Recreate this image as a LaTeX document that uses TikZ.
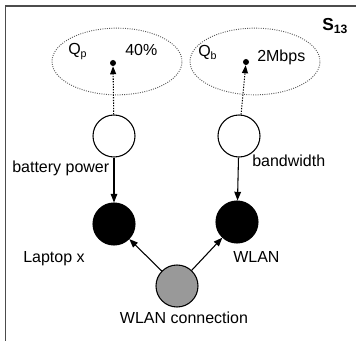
\documentclass[tikz,border=0pt]{standalone}
\usepackage{fontspec}
\setmainfont{Liberation Sans}
\usepackage{tikz}
\usetikzlibrary{shapes.geometric,arrows.meta,positioning}

\begin{document}
\begin{tikzpicture}[
  x=0.75pt, y=-0.75pt,
  state/.style={draw, circle, line width=0.8pt, minimum size=31.5pt, inner sep=0pt},
  goal/.style={draw=black!65, ellipse, line width=0.7pt, dash pattern=on 0.7pt off 1pt, minimum width=97.5pt, minimum height=50pt, inner sep=0pt},
  dot/.style={circle, fill, minimum size=4.5pt, inner sep=0pt},
  edge/.style={-{Triangle[length=6.5pt, width=5pt]}, line width=0.8pt},
  goaledge/.style={-{Triangle[length=6pt, width=4.5pt]}, line width=0.8pt, dash pattern=on 1pt off 1pt},
  txt/.style={font=\fontsize{12pt}{14pt}\selectfont, inner sep=0pt},
]
\useasboundingbox (0,0) rectangle (356,341);
\draw[line width=1.1pt, black!70] (5.5,341) |- (356,6);

% goals
\node[goal] (qp) at (117,61.5) {};
\node[goal] (qb) at (255,61.5) {};
\node[dot] (dp) at (113,63) {};
\node[dot] (db) at (246,62) {};
\node[txt, anchor=base west] (lqp) at (68,55) {Q\textsubscript{p}};
\node[txt, anchor=base west] (vqp) at (125,56) {40\%};
\node[txt, anchor=base west] (lqb) at (198,57) {Q\textsubscript{b}};
\node[txt, anchor=base west] (vqb) at (257,62) {2Mbps};

% attributes
\node[state] (bat) at (114,136) {};
\node[state] (bw) at (239,136) {};
\node[txt, anchor=base west] (lbat) at (12,173) {battery power};
\node[txt, anchor=base west] (lbw) at (252,167) {bandwidth};

% devices
\node[state, fill=black] (lap) at (114,224) {};
\node[state, fill=black] (wlan) at (237,222) {};
\node[txt, anchor=base west] (llap) at (23,263) {Laptop x};
\node[txt, anchor=base west] (lwlan) at (233,263) {WLAN};

% connection
\node[state, fill=black!40] (con) at (177,286) {};
\node[txt, anchor=base] (lcon) at (184,323) {WLAN connection};
\node[txt, anchor=base west, font=\fontsize{13pt}{15pt}\selectfont\bfseries] (s13) at (322,31) {S\textsubscript{13}};

\draw[goaledge] (bat) -- (dp);
\draw[goaledge] (bw) -- (db);
\draw[edge] (bat) -- (lap);
\draw[edge] (bw) -- (wlan);
\draw[edge] (con) -- (lap);
\draw[edge] (con) -- (wlan);

\end{tikzpicture}
\end{document}
